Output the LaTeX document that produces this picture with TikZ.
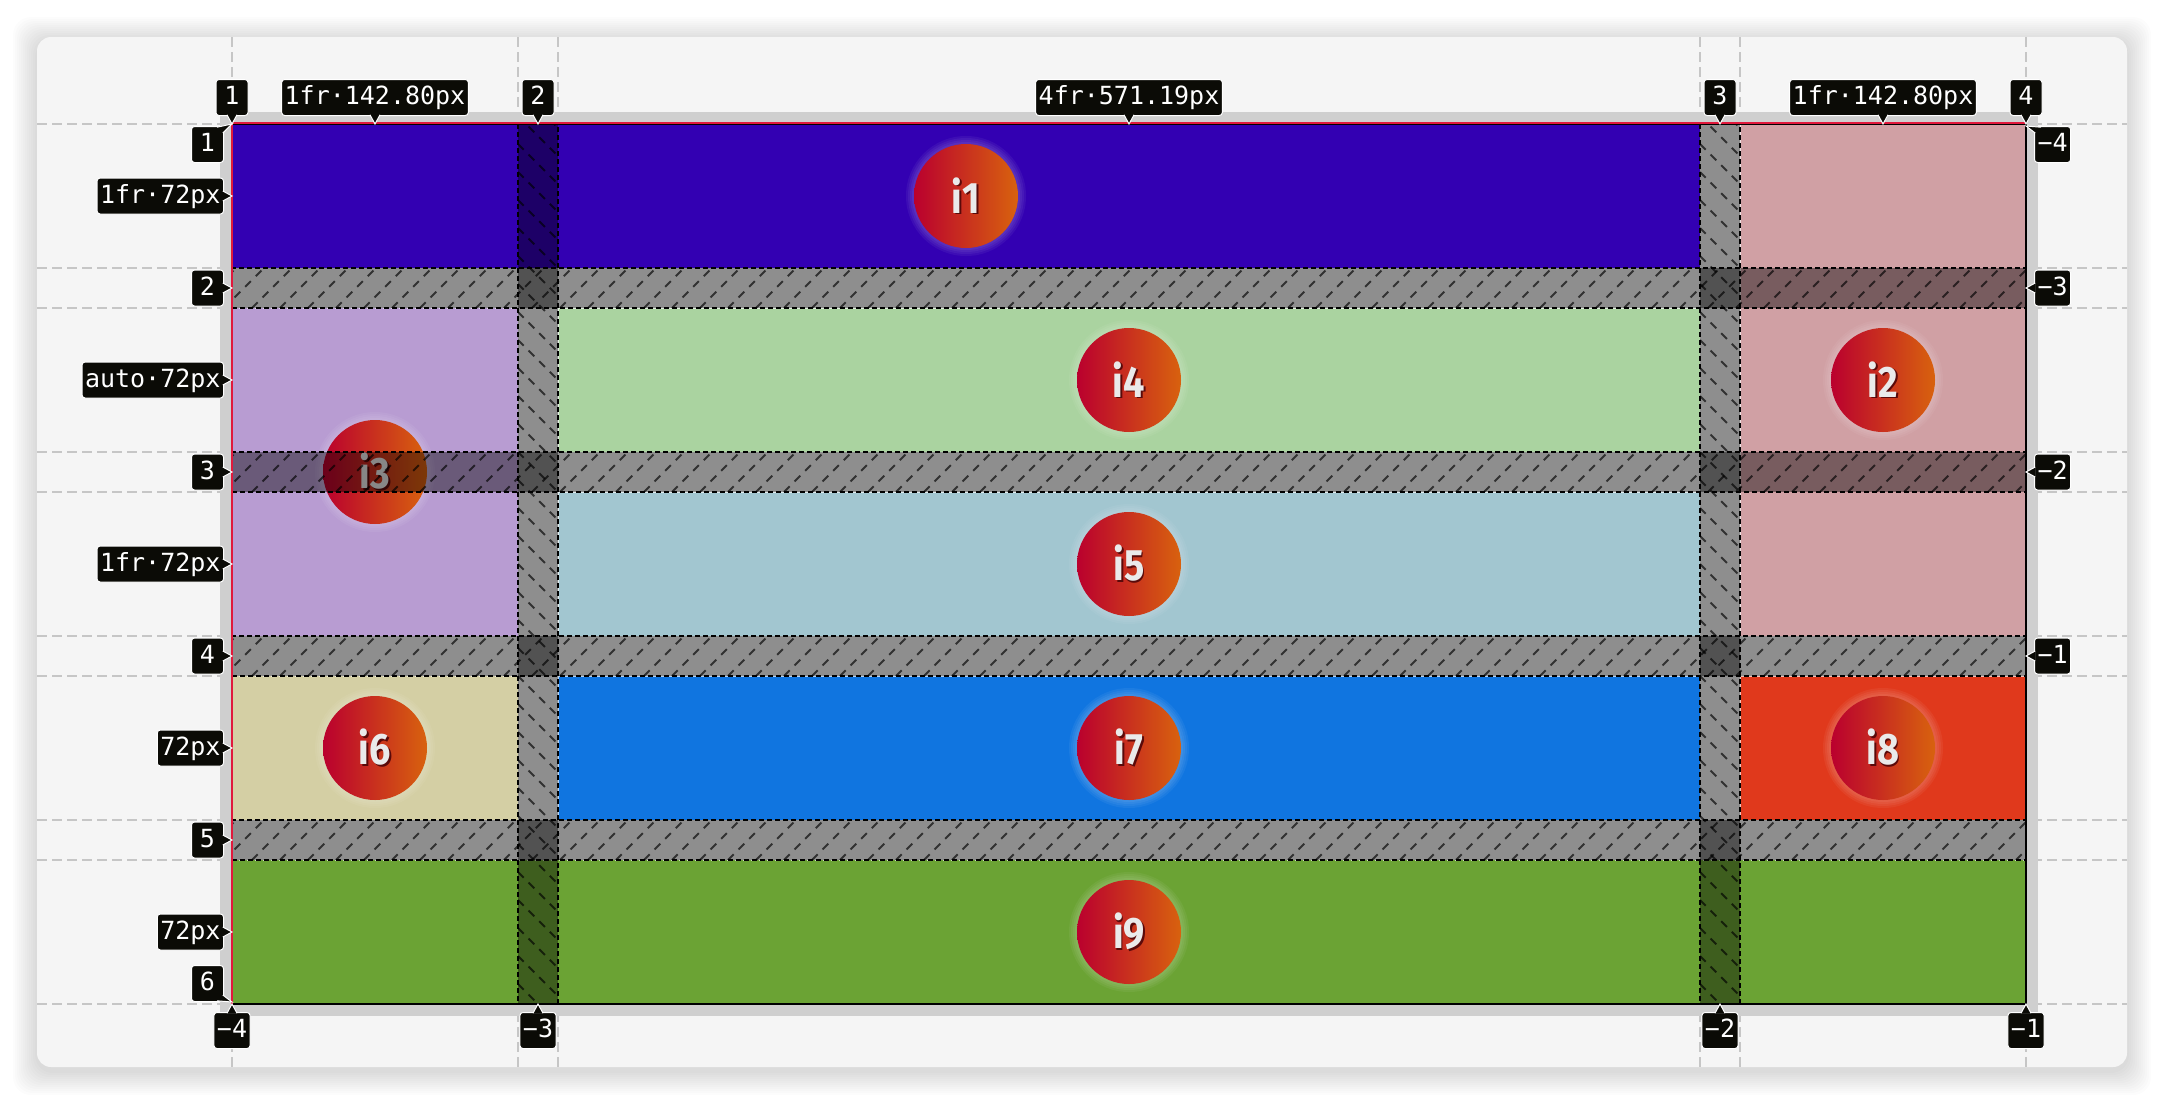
\documentclass[tikz,border=0pt]{standalone}
\usepackage{fontspec}
\newfontfamily\tagfont{DejaVu Sans Mono}
\newfontfamily\itemfont[FakeStretch=0.86]{Fira Sans}

\definecolor{cardbg}{HTML}{F5F5F5}
\definecolor{guidegray}{HTML}{C6C6C6}
\definecolor{framegray}{HTML}{CFCFCF}
\definecolor{tagbg}{HTML}{0B0B06}
\definecolor{edgered}{HTML}{E0193C}
\definecolor{cellA}{HTML}{3300B2}
\definecolor{cellB}{HTML}{D0A0A4}
\definecolor{cellC}{HTML}{B89CD2}
\definecolor{cellD}{HTML}{AAD3A0}
\definecolor{cellE}{HTML}{A2C6D0}
\definecolor{cellF}{HTML}{D4CFA4}
\definecolor{cellG}{HTML}{1075E0}
\definecolor{cellH}{HTML}{E0391C}
\definecolor{cellI}{HTML}{6BA334}
\definecolor{ballL}{HTML}{BA002E}
\definecolor{ballM}{HTML}{C4000C}
\definecolor{ballR}{HTML}{D8620E}
\definecolor{ballink}{HTML}{EAEAEA}
\definecolor{ballshade}{HTML}{5A0A0A}

\newcommand{\balltext}[1]{\rlap{\kern0.8pt\raisebox{-0.8pt}{\textcolor{ballshade}{#1}}}#1}

\begin{document}
\begin{tikzpicture}[x=0.5pt, y=-0.5pt,
	tag/.style={rectangle, fill=tagbg, draw=white, line width=0.5pt, rounded corners=1.5pt, text=white,
		font=\tagfont\fontsize{12.5}{14}\selectfont, inner xsep=1.5pt, inner ysep=0pt,
		text height=9.5pt, text depth=2.5pt, minimum height=18pt, minimum width=16pt},
	tagtip/.style={fill=tagbg, draw=white, line width=0.5pt},
	guide/.style={guidegray, line width=0.75pt, dash pattern=on 5pt off 2.5pt},
	gap/.style={fill=black, fill opacity=0.42},
	gapedge/.style={black, line width=1pt, dash pattern=on 2.5pt off 1.5pt},
	celledge/.style={white, opacity=0.7, line width=0.5pt, dash pattern=on 2.5pt off 1.5pt},
	hatch/.style={black, opacity=0.65, line width=1pt, dash pattern=on 4pt off 3.5pt},
	ball/.style={circle, minimum size=52pt, inner sep=0pt, left color=ballL, middle color=ballM, right color=ballR,
		text=ballink, font=\itemfont\bfseries\fontsize{22}{22}\selectfont}]
	\useasboundingbox (0,0) rectangle (2164,1104);
	\fill[white] (0,0) rectangle (2164,1104);

	% card and its shadow
	\foreach \s in {1,...,12} {
		\fill[black, opacity=0.012, rounded corners=9pt] (37-2*\s,41-2*\s) rectangle (2127+2*\s,1071+2*\s);
	}
	\fill[cardbg, rounded corners=7pt] (37,37) rectangle (2127,1067);

	% track lines
	\foreach \y in {124,268,308,452,492,636,676,820,860,1004} {
		\draw[guide] (37,\y) -- (2127,\y);
	}
	\foreach \x in {232,518,558,1700,1740,2026} {
		\draw[guide] (\x,37) -- (\x,1067);
	}

	\coordinate (gridNW) at (232,124);
	\coordinate (gridSE) at (2026,1004);
	\fill[framegray] (220,112) rectangle (2038,1016);
	\fill[cardbg] (gridNW) rectangle (gridSE);

	% grid items
	\foreach \xa/\ya/\xb/\yb/\c in {232/124/1700/268/cellA, 1740/124/2026/636/cellB, 232/308/518/636/cellC,
		558/308/1700/452/cellD, 558/492/1700/636/cellE, 232/676/518/820/cellF,
		558/676/1700/820/cellG, 1740/676/2026/820/cellH, 232/860/2026/1004/cellI} {
		\fill[\c] (\xa,\ya) rectangle (\xb,\yb);
		\draw[celledge] (\xa,\ya) rectangle (\xb,\yb);
	}

	\foreach \x/\y in {966/196, 1883/380, 375/472, 1129/380, 1129/564, 375/748, 1129/748, 1883/748, 1129/932} {
		\foreach \r in {27,28,...,30} {
			\fill[white, opacity=0.05] (\x,\y) circle (\r pt);
		}
	}
	\node[ball] (i1) at (966,196) {\balltext{i1}};
	\node[ball] (i2) at (1883,380) {\balltext{i2}};
	\node[ball] (i3) at (375,472) {\balltext{i3}};
	\node[ball] (i4) at (1129,380) {\balltext{i4}};
	\node[ball] (i5) at (1129,564) {\balltext{i5}};
	\node[ball] (i6) at (375,748) {\balltext{i6}};
	\node[ball] (i7) at (1129,748) {\balltext{i7}};
	\node[ball] (i8) at (1883,748) {\balltext{i8}};
	\node[ball] (i9) at (1129,932) {\balltext{i9}};

	% gaps
	\foreach \ya in {268,452,636,820} {
		\fill[gap] (232,\ya) rectangle (2026,\ya+40);
		\begin{scope}
			\clip (232,\ya) rectangle (2026,\ya+40);
			\foreach \x in {196,224,...,2026} {
				\draw[hatch] (\x,\ya+40) -- ++(40,-40);
			}
		\end{scope}
		\draw[gapedge] (232,\ya) rectangle (2026,\ya+40);
	}
	\foreach \xa in {518,1700} {
		\fill[gap] (\xa,124) rectangle (\xa+40,1004);
		\begin{scope}
			\clip (\xa,124) rectangle (\xa+40,1004);
			\foreach \y in {88,116,...,1004} {
				\draw[hatch] (\xa,\y) -- ++(40,40);
			}
		\end{scope}
		\draw[gapedge] (\xa,124) rectangle (\xa+40,1004);
	}

	\draw[black, line width=0.9pt] (gridNW) rectangle (gridSE);
	\draw[edgered, line width=1.1pt] (232,1004) -- (232,123) -- (2026,123);

	% line and track tags
	\foreach \x/\lbl [count=\i] in {232/1, 375/1fr·142.80px, 538/2, 1129/4fr·571.19px, 1720/3, 1883/1fr·142.80px, 2026/4} {
		\node[tag, anchor=south] (top\i) at (\x,116) {\lbl};
		\draw[tagtip] ([xshift=-2.5pt,yshift=0.6pt]top\i.south) -- (top\i.south |- gridNW) -- ([xshift=2.5pt,yshift=0.6pt]top\i.south);
	}
	\foreach \x/\lbl [count=\i] in {232/−4, 538/−3, 1720/−2, 2026/−1} {
		\node[tag, anchor=north] (bot\i) at (\x,1012) {\lbl};
		\draw[tagtip] ([xshift=-2.5pt,yshift=-0.6pt]bot\i.north) -- (bot\i.north |- gridSE) -- ([xshift=2.5pt,yshift=-0.6pt]bot\i.north);
	}
	\foreach \y/\lbl [count=\i] in {196/1fr·72px, 288/2, 380/auto·72px, 472/3, 564/1fr·72px, 656/4, 748/72px, 840/5, 932/72px} {
		\node[tag, anchor=east] (left\i) at (224,\y) {\lbl};
		\draw[tagtip] ([xshift=-0.6pt,yshift=2.5pt]left\i.east) -- (left\i.east -| gridNW) -- ([xshift=-0.6pt,yshift=-2.5pt]left\i.east);
	}
	\foreach \y/\lbl [count=\i] in {288/−3, 472/−2, 656/−1} {
		\node[tag, anchor=west] (right\i) at (2034,\y) {\lbl};
		\draw[tagtip] ([xshift=0.6pt,yshift=2.5pt]right\i.west) -- (right\i.west -| gridSE) -- ([xshift=0.6pt,yshift=-2.5pt]right\i.west);
	}

	% corner tags
	\node[tag, anchor=north east] (rowfirst) at (224,126) {1};
	\draw[tagtip] ([xshift=-3.5pt,yshift=-0.6pt]rowfirst.north east) -- (gridNW) -- ([xshift=-0.6pt,yshift=-3.5pt]rowfirst.north east);
	\node[tag, anchor=south east] (rowlast) at (224,1002) {6};
	\draw[tagtip] ([xshift=-3.5pt,yshift=0.6pt]rowlast.south east) -- (rowlast.south east -| gridNW) -- ([xshift=-0.6pt,yshift=3.5pt]rowlast.south east);
	\node[tag, anchor=north west] (rightfirst) at (2034,126) {−4};
	\draw[tagtip] ([xshift=3.5pt,yshift=-0.6pt]rightfirst.north west) -- (rightfirst.north west -| gridSE) -- ([xshift=0.6pt,yshift=-3.5pt]rightfirst.north west);
\end{tikzpicture}
\end{document}
